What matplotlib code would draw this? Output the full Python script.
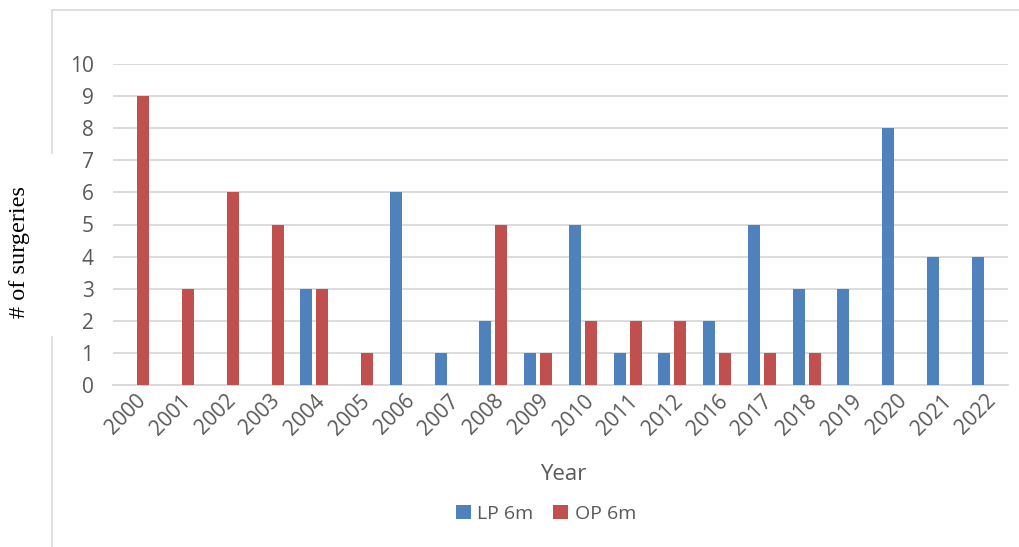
import matplotlib.pyplot as plt
import numpy as np
from matplotlib.lines import Line2D

years = ['2000', '2001', '2002', '2003', '2004', '2005', '2006', '2007', '2008', '2009',
         '2010', '2011', '2012', '2016', '2017', '2018', '2019', '2020', '2021', '2022']
lp_6m = [0, 0, 0, 0, 3, 0, 6, 1, 2, 1, 5, 1, 1, 2, 5, 3, 3, 8, 4, 4]
op_6m = [9, 3, 6, 5, 3, 1, 0, 0, 5, 1, 2, 2, 2, 1, 1, 1, 0, 0, 0, 0]

blue = '#4F81BD'
red = '#C0504D'
txt = '#595959'

fig = plt.figure(figsize=(10.19, 5.47), dpi=100)
ax = fig.add_axes([113 / 1019, 1 - 385 / 547, (1008 - 113) / 1019, (385 - 64) / 547])

x = np.arange(len(years))
w = 0.27
ax.bar(x - 0.18, lp_6m, w, color=blue, label='LP 6m', zorder=3)
ax.bar(x + 0.18, op_6m, w, color=red, label='OP 6m', zorder=3)

ax.set_xlim(-0.5, len(years) - 0.5)
ax.set_ylim(0, 10)
ax.set_yticks(range(0, 11))
ax.yaxis.grid(True, color='#D9D9D9', linewidth=1.3, zorder=0)
for s in ['top', 'right', 'left']:
    ax.spines[s].set_visible(False)
ax.spines['bottom'].set_color('#D9D9D9')
ax.spines['bottom'].set_linewidth(1.3)
ax.tick_params(axis='both', length=0, colors=txt, labelsize=15)
ax.tick_params(axis='y', pad=14)
ax.tick_params(axis='x', pad=4)
ax.set_xticks(x)
ax.set_xticklabels(years, rotation=45, ha='right', va='top', rotation_mode='anchor',
                   fontfamily='Open Sans')
for lab in ax.get_yticklabels():
    lab.set_fontfamily('Open Sans')

fig.text(563 / 1019, 1 - 475 / 547, 'Year', ha='center', va='center', color=txt,
         fontsize=16, fontfamily='Open Sans')
fig.text(20 / 1019, 1 - 252 / 547, '# of surgeries', ha='center', va='center',
         rotation=90, fontsize=17.5, fontfamily='Liberation Serif', color='black')

leg = fig.legend(loc='center', bbox_to_anchor=(546 / 1019, 1 - 514 / 547), ncol=2,
                 frameon=False, handlelength=0.75, handleheight=0.75,
                 handletextpad=0.35, columnspacing=1.0, prop={'family': 'Open Sans', 'size': 14})
for t in leg.get_texts():
    t.set_color(txt)

# outer chart frame (partial)
fc = '#D9D9D9'
fig.add_artist(Line2D([52 / 1019, 1], [1 - 10 / 547, 1 - 10 / 547], color=fc, lw=1.2))
fig.add_artist(Line2D([52 / 1019, 52 / 1019], [1 - 10 / 547, 1 - 153 / 547], color=fc, lw=1.2))
fig.add_artist(Line2D([52 / 1019, 52 / 1019], [1 - 337 / 547, 0], color=fc, lw=1.2))

fig.savefig('out.png', dpi=100)
